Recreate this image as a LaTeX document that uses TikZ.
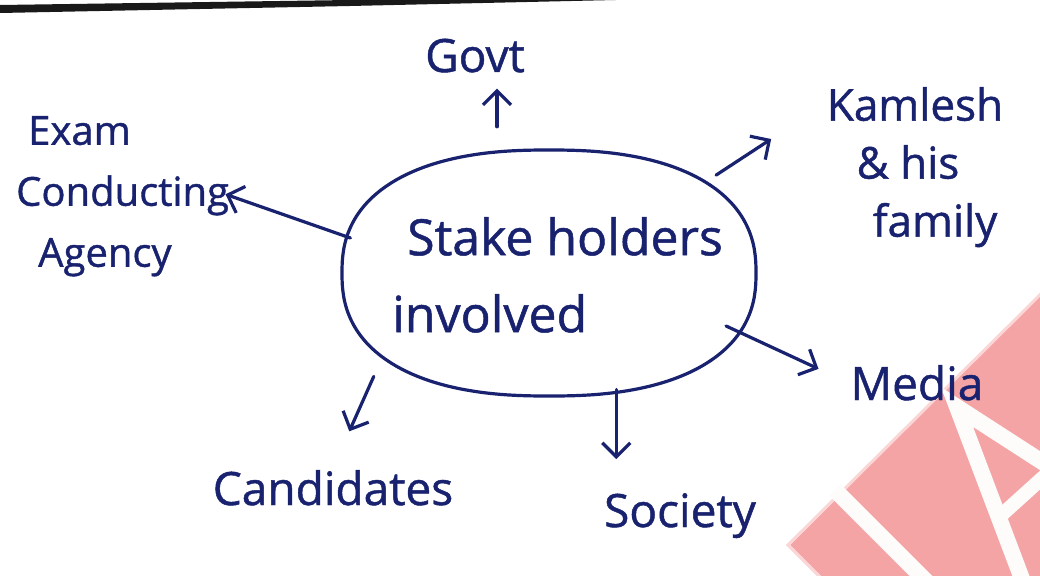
\documentclass[tikz,border=0pt]{standalone}
\usepackage{fontspec}
\setmainfont{Open Sans}[FakeBold=1]
\usetikzlibrary{arrows.meta,shapes.geometric,calc}
\definecolor{ink}{RGB}{24,34,110}
\definecolor{stamp}{RGB}{244,164,164}
\begin{document}
\begin{tikzpicture}[x=1pt,y=-1pt,
  pen/.style={draw=ink, line width=3.2pt, line cap=round, line join=round},
  arr/.style={pen, -{Straight Barb[length=14pt,width=28pt]}},
  lbl/.style={text=ink, inner sep=2pt},
  big/.style={font=\fontsize{46}{60}\selectfont},
]
\useasboundingbox (0,0) rectangle (1040,575);
\fill[white] (0,0) rectangle (1040,575);

\begin{scope}
  \clip (0,0) rectangle (1040,575);
  % page edge along the top
  \fill[black!90] (0,5) -- (350,0) -- (660,-1) -- (350,6) -- (0,13) -- cycle;
  % stamp in the lower right corner
  \fill[stamp] (1060,275) -- (790,545) -- (830,585) -- (1060,585) -- cycle;
  \draw[stamp!45!white, line width=3pt] (1062,273) -- (788,545) -- (830,587);
  \draw[white!96!stamp, line width=16pt] (835,490) -- (935,590);
  \draw[white!96!stamp, line width=16pt, line join=miter] (1070,480) -- (957,407) -- (1030,600);
  \draw[white!96!stamp, line width=14pt] (997,519) -- (1060,462);
\end{scope}

% central bubble
\node[ellipse, minimum width=414pt, minimum height=246pt, inner sep=0] (c) at (549,273) {};
\draw[pen] plot[smooth cycle, domain=1.25:358.75, samples=144]
  ({549+207*sign(cos(\x))*abs(cos(\x))^(0.84)}, {273-123*sign(sin(\x))*abs(sin(\x))^(0.84)});
\node[lbl, align=left, anchor=north west, font=\fontsize{50}{77}\selectfont] (ctext) at (390,215)
  {\hspace*{15pt}Stake holders\\involved};

% stakeholders
\node[lbl, big, anchor=base] (govt) at (475,72) {Govt};
\node[lbl, align=left, anchor=north west, font=\fontsize{40}{61}\selectfont] (exam) at (14,114)
  {\hspace*{12pt}Exam\\Conducting\\\hspace*{22pt}Agency};
\node[lbl, align=center, anchor=north, font=\fontsize{44}{58}\selectfont] (kam) at (915,85)
  {Kamlesh\\\hspace*{-14pt}\& his\\\hspace*{40pt}family};
\node[lbl, big, anchor=base] (media) at (917,400) {Media};
\node[lbl, big, anchor=base] (soc) at (680,527) {Society};
\node[lbl, big, anchor=base] (cand) at (333,505) {Candidates};

% arrows from the bubble
\coordinate (gx) at ($(govt.south)+(22,0)$);
\draw[arr, shorten <=23pt, shorten >=14pt] (c.north -| gx) -- (gx);
\draw[arr, shorten >=-6pt] (c.170) -- (exam.east);
\draw[arr, shorten <=22pt, shorten >=64pt] (c.30) -- (kam.145);
\draw[arr, shorten <=-8pt, shorten >=33pt] (c.-17) -- (media.west);
\draw[arr, shorten >=32pt] (c.-60) -- (c.-60 |- soc.north);
\draw[arr, shorten <=30pt, shorten >=40pt] (c.205) -- (cand.north);
\end{tikzpicture}
\end{document}
